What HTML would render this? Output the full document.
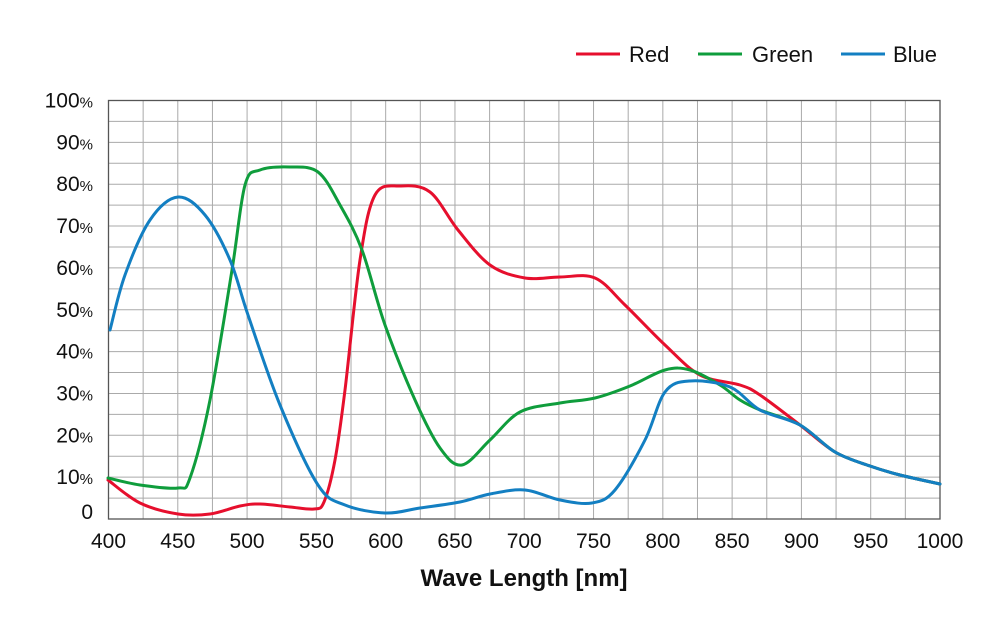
<!DOCTYPE html>
<html><head><meta charset="utf-8"><style>
body{margin:0;background:#fff}
svg{display:block;font-family:"Liberation Sans",sans-serif}
</style></head><body>
<svg id="s" width="1000" height="618" viewBox="0 0 1000 618" xmlns="http://www.w3.org/2000/svg">
<g id="grid" stroke="#aaa" stroke-width="1"></g>
<rect x="108.5" y="100.5" width="831.5" height="418.5" fill="none" stroke="#555" stroke-width="1.3"/>
<g id="labels" font-size="21" fill="#111"></g>
<text x="524" y="586" text-anchor="middle" font-size="24" font-weight="bold" fill="#111">Wave Length [nm]</text>
<g font-size="22" fill="#111">
<line x1="576" y1="54" x2="620" y2="54" stroke="#e60f2d" stroke-width="3"/><text x="629" y="62">Red</text>
<line x1="698" y1="54" x2="742" y2="54" stroke="#0f9d3c" stroke-width="3"/><text x="752" y="62">Green</text>
<line x1="841" y1="54" x2="885" y2="54" stroke="#137fc2" stroke-width="3"/><text x="893" y="62">Blue</text>
</g>
<g id="curves" fill="none" stroke-width="3" stroke-linejoin="round" stroke-linecap="round"></g>
</svg>
<script>
var NS="http://www.w3.org/2000/svg";
function el(t,a,p,txt){var e=document.createElementNS(NS,t);for(var k in a)e.setAttribute(k,a[k]);if(txt!=null)e.textContent=txt;p.appendChild(e);return e;}
var g=document.getElementById('grid'),L=document.getElementById('labels');
for(var i=1;i<24;i++){var x=108.5+i*831.5/24;el('line',{x1:x,y1:100.5,x2:x,y2:519},g);}
for(var j=1;j<20;j++){var y=100.5+j*418.5/20;el('line',{x1:108.5,y1:y,x2:940,y2:y},g);}
for(var n=400;n<=1000;n+=50){var x=108.5+(n-400)*1.3858;el('text',{x:x,y:548,'text-anchor':'middle'},L,''+n);}
for(var p=10;p<=100;p+=10){var y=519-p*4.185+7;var t=el('text',{x:93,y:y,'text-anchor':'end'},L,''+p);el('tspan',{'font-size':15},t,'%');}
el('text',{x:93,y:519},L,'0').setAttribute('text-anchor','end');
function path(pts){var d='M'+pts[0][0]+','+pts[0][1];for(var i=0;i<pts.length-1;i++){var p0=pts[i-1]||pts[i],p1=pts[i],p2=pts[i+1],p3=pts[i+2]||p2;var c1=[p1[0]+(p2[0]-p0[0])/6,p1[1]+(p2[1]-p0[1])/6],c2=[p2[0]-(p3[0]-p1[0])/6,p2[1]-(p3[1]-p1[1])/6];d+=' C'+c1+' '+c2+' '+p2;}return d;}
var tail=[[835,452],[870,466],[900,475],[940,484]];
var R=[[108,480],[140,503],[178,514],[210,514],[240,506],[260,504],[290,507],[314,509],[324,502],[335,460],[345,390],[360,260],[375,195],[400,186],[430,192],[458,230],[490,265],[525,278],[560,277],[595,278],[625,305],[665,345],[700,375],[740,385],[760,395],[800,425]].concat(tail);
var G=[[108,478],[140,485],[178,488],[190,478],[210,400],[232,270],[245,185],[260,170],[290,167],[318,172],[340,205],[362,250],[385,325],[415,400],[440,448],[462,465],[490,440],[520,412],[560,403],[595,398],[630,386],[665,370],[690,370],[720,385],[740,400],[760,410],[800,425]].concat(tail);
var B=[[110,330],[125,275],[150,220],[178,197],[205,215],[230,260],[248,315],[280,405],[318,485],[345,505],[385,513],[420,508],[460,502],[490,494],[525,490],[560,500],[592,503],[615,490],[645,440],[665,392],[690,381],[730,387],[760,410],[800,425]].concat(tail);
var c=document.getElementById('curves');
el('path',{d:path(R),stroke:'#e60f2d'},c);
el('path',{d:path(G),stroke:'#0f9d3c'},c);
el('path',{d:path(B),stroke:'#137fc2'},c);
</script>
</body></html>
